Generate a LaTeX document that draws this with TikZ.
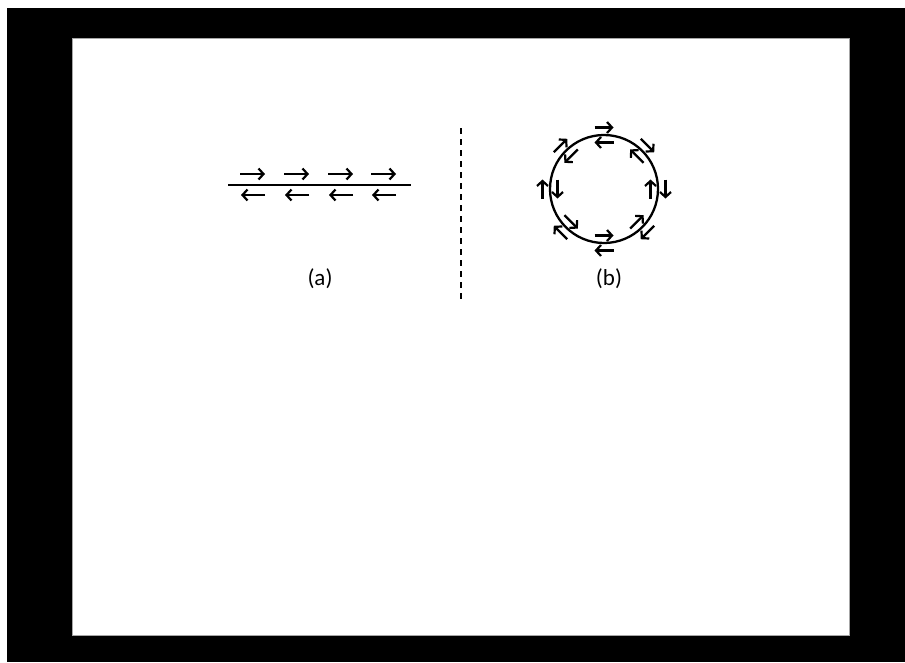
\documentclass[tikz,border=0pt]{standalone}
\usepackage{fontspec}
\setmainfont{Carlito}
\usetikzlibrary{arrows.meta,calc}
\tikzset{
  arr/.style={line width=2.3pt,-{Straight Barb[length=5pt,width=11pt,line width=2.2pt]}},
  wire/.style={line width=2.3pt},
  divider/.style={line width=1.6pt,dash pattern=on 6pt off 5pt},
  lbl/.style={font=\fontsize{23}{27}\selectfont,inner sep=0pt}
}
\begin{document}
\begin{tikzpicture}[x=1pt,y=-1pt]
\useasboundingbox (0,0) rectangle (905,662);
\fill[white] (0,0) rectangle (905,662);
\fill[black] (7,8) rectangle (905,662);
\draw[fill=white,draw=gray!70,line width=0.8pt] (72,38) rectangle (849,635);
% (a) straight line with arrows
\coordinate (la) at (228,185);
\coordinate (lb) at (411,185);
\draw[wire] (la) -- (lb);
\foreach \x in {240,284,328,371}{
  \draw[arr] (\x,174) -- (\x+25,174);
  \draw[arr] (\x+25,195) -- (\x+1,195);
}
\node[lbl] (labela) at (320,279) {(a)};
% divider
\coordinate (d1) at (461,128);
\coordinate (d2) at (461,303);
\draw[divider] (d1) -- (d2);
% (b) circle with arrows
\coordinate (c) at (604,189);
\draw[wire] (c) circle[radius=54];
\begin{scope}[shift={(604,189)},yscale=-1]
\foreach \t in {0,45,90,135,180,225,270,315}{
  \draw[arr] ($(\t:61.5)+(\t+90:9.5)$) -- ($(\t:61.5)+(\t-90:9.5)$);
  \draw[arr] ($(\t:46.5)+(\t-90:9.5)$) -- ($(\t:46.5)+(\t+90:9.5)$);
}
\end{scope}
\node[lbl] (labelb) at (609,279) {(b)};
\end{tikzpicture}
\end{document}
